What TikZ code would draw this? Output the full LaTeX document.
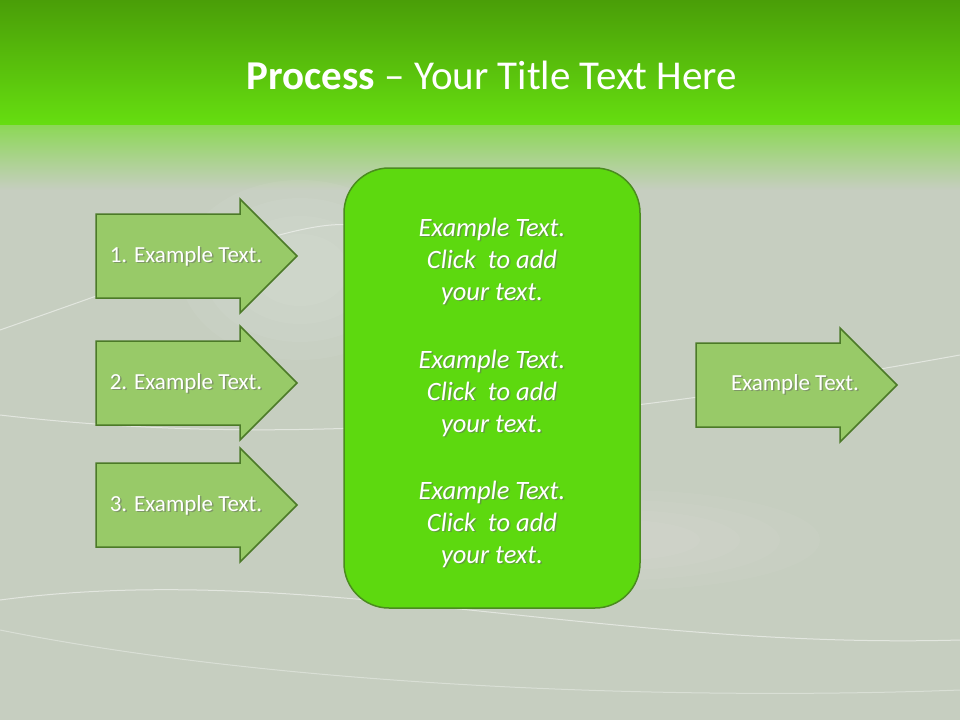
\documentclass[tikz,border=0pt]{standalone}
\usepackage{fontspec}
\setmainfont{Carlito}
\begin{document}
\begin{tikzpicture}[x=1pt,y=-1pt,
  arr/.style={fill=arrfill,draw=arrline,line width=1.5pt,line join=miter},
  lbl/.style={text=white,font=\fontsize{23}{26}\selectfont},
  shd/.style={text=black!60,opacity=0.5,font=\fontsize{23}{26}\selectfont},
  ctext/.style={text=white,align=center,font=\fontsize{26.5}{32}\selectfont\itshape}]
\definecolor{arrfill}{HTML}{98CA68}
\definecolor{arrline}{HTML}{4C7A28}
\definecolor{boxfill}{HTML}{5DD90F}
\definecolor{boxline}{HTML}{4A8C1E}
\definecolor{bg}{HTML}{C6CEC0}
\definecolor{topd}{HTML}{4A9E08}
\definecolor{topl}{HTML}{66DE10}
\useasboundingbox (0,0) rectangle (960,720);
\fill[bg] (0,0) rectangle (960,720);
\fill[top color=topd,bottom color=topl] (0,0) rectangle (960,125);
\fill[top color=topl!60!bg,bottom color=bg] (0,125) rectangle (960,190);
\foreach \r in {1,0.8,0.6,0.4}{
  \fill[white,opacity=0.05] (300,270) ellipse ({120*\r} and {90*\r});
  \fill[white,opacity=0.04] (620,540) ellipse ({200*\r} and {50*\r});
}
\draw[white,opacity=0.5,line width=1pt] (0,330) .. controls (200,260) and (300,220) .. (350,225);
\draw[white,opacity=0.5,line width=1pt] (0,415) .. controls (300,450) and (600,420) .. (960,355);
\draw[white,opacity=0.5,line width=1pt] (0,600) .. controls (300,560) and (600,650) .. (960,640);
\draw[white,opacity=0.35,line width=1pt] (0,630) .. controls (300,690) and (700,700) .. (960,690);
\node[text=white,font=\fontsize{41}{46}\selectfont] (title) at (492,75) {\textbf{Process} -- Your Title Text Here};
\foreach \n/\y in {1/256,2/383,3/505}{
  \draw[arr] (96,\y-42) -- (240,\y-42) -- (240,\y-57) -- (297,\y) -- (240,\y+57) -- (240,\y+42) -- (96,\y+42) -- cycle;
  \node[shd] at (187.5,\y+1.5) {\n. Example Text.};
  \node[lbl] (a\n) at (186,\y) {\n. Example Text.};
}
\draw[arr] (696,343) -- (840,343) -- (840,328) -- (897,385) -- (840,442) -- (840,427) -- (696,427) -- cycle;
\node[shd] at (796.5,385.5) {Example Text.};
\node[lbl] (ar) at (795,384) {Example Text.};
\draw[fill=boxfill,draw=boxline,line width=1.5pt,rounded corners=45] (344,168) rectangle (640,608);
\foreach \y/\k in {261/c1,393/c2,524/c3}{
  \node[ctext,text=black!60,opacity=0.5] at (493.5,\y+1.5) {Example Text.\\Click~ to add\\your text.};
  \node[ctext] (\k) at (492,\y) {Example Text.\\Click~ to add\\your text.};
}
\end{tikzpicture}
\end{document}
